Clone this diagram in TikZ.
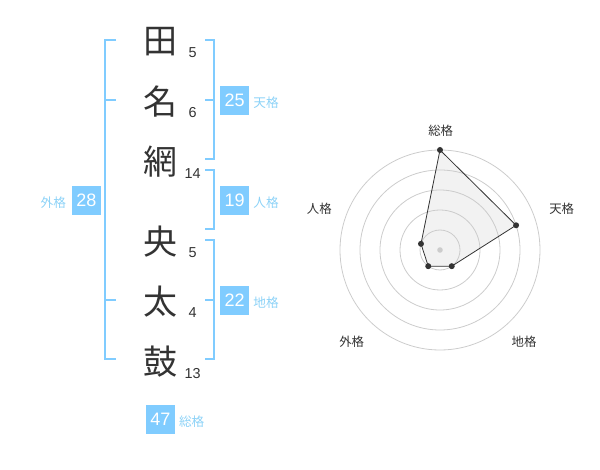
\documentclass[tikz,border=0pt]{standalone}
\usepackage{fontspec}
\setmainfont{Liberation Sans}
\newfontfamily\jp{Noto Sans CJK JP}
\usetikzlibrary{calc}
\definecolor{kaku}{HTML}{80CCFF}
\definecolor{kakutext}{HTML}{8CD2F7}
\definecolor{ink}{HTML}{333333}
\definecolor{ring}{HTML}{CCCCCC}
\definecolor{area}{HTML}{F2F2F2}

\begin{document}
\begin{tikzpicture}[x=0.75pt,y=-0.75pt,
	kanji/.style={font=\jp\fontsize{25.5}{25.5}\selectfont, text=ink, inner sep=0pt},
	stroke/.style={font=\fontsize{10.8}{10.8}\selectfont, text=ink, inner sep=0pt},
	bracket/.style={draw=kaku, line width=1.3pt},
	kakubox/.style={fill=kaku, text=white, minimum size=21.75pt, inner sep=0pt, font=\fontsize{13.5}{13.5}\selectfont},
	kakuname/.style={font=\jp\fontsize{9.5}{9.5}\selectfont, text=kakutext, inner sep=0pt},
	radarname/.style={font=\jp\fontsize{9.3}{9.3}\selectfont, text=ink, inner sep=0pt}]
	%%%%% START %%%%%
	
	\useasboundingbox (0,0) rectangle (600,470);
	
	% name
	\node[kanji] (c1) at (160, 41.7) {田};
	\node[kanji] (c2) at (160, 101.7) {名};
	\node[kanji] (c3) at (160, 161.7) {網};
	\node[kanji] (c4) at (160, 241.7) {央};
	\node[kanji] (c5) at (160, 301.7) {太};
	\node[kanji] (c6) at (160, 361.7) {鼓};
	
	\node[stroke] (s1) at (192.7, 52.3) {5};
	\node[stroke] (s2) at (192.7, 112.7) {6};
	\node[stroke] (s3) at (192.7, 173.3) {14};
	\node[stroke] (s4) at (192.7, 252.3) {5};
	\node[stroke] (s5) at (192.7, 313) {4};
	\node[stroke] (s6) at (192.7, 373.3) {13};
	
	% brackets
	\draw[bracket] (116, 40) -- (105, 40) -- (105, 359.3) -- (116, 359.3);
	\draw[bracket] (105, 100) -- (116, 100);
	\draw[bracket] (105, 300) -- (116, 300);
	
	\draw[bracket] (205, 40) -- (214, 40) -- (214, 159.3) -- (205, 159.3);
	\draw[bracket] (205, 100) -- (214, 100);
	
	\draw[bracket] (205, 170) -- (214, 170) -- (214, 229.3) -- (205, 229.3);
	
	\draw[bracket] (205, 240) -- (214, 240) -- (214, 359.3) -- (205, 359.3);
	\draw[bracket] (205, 300) -- (214, 300);
	
	% sums
	\node[kakubox] (ten) at (234.7, 100.3) {25};
	\node[kakuname] at (266, 103) {天格};
	\node[kakubox] (jin) at (234.7, 200.3) {19};
	\node[kakuname] at (266, 203) {人格};
	\node[kakubox] (chi) at (234.7, 300.3) {22};
	\node[kakuname] at (266, 303) {地格};
	\node[kakubox] (gai) at (86.3, 200.3) {28};
	\node[kakuname] at (53.3, 203) {外格};
	\node[kakubox] (sou) at (160.5, 419.5) {47};
	\node[kakuname] at (191.7, 422) {総格};
	
	% radar
	\coordinate (o) at (440, 250);
	\coordinate (p1) at ($(o)+(-90:100)$);
	\coordinate (p2) at ($(o)+(-18:80)$);
	\coordinate (p3) at ($(o)+(54:20)$);
	\coordinate (p4) at ($(o)+(126:20)$);
	\coordinate (p5) at ($(o)+(198:20)$);
	
	\fill[area] (p1) -- (p2) -- (p3) -- (p4) -- (p5) -- cycle;
	
	\draw[ring, line width=0.6pt] (o) circle (15pt);
	\draw[ring, line width=0.6pt] (o) circle (30pt);
	\draw[ring, line width=0.6pt] (o) circle (45pt);
	\draw[ring, line width=0.6pt] (o) circle (60pt);
	\draw[ring, line width=0.6pt] (o) circle (75pt);
	\fill[ring] (o) circle (2.1pt);
	
	\draw[ink, line width=0.6pt] (p1) -- (p2) -- (p3) -- (p4) -- (p5) -- cycle;
	\fill[ink] (p1) circle (2.25pt);
	\fill[ink] (p2) circle (2.25pt);
	\fill[ink] (p3) circle (2.25pt);
	\fill[ink] (p4) circle (2.25pt);
	\fill[ink] (p5) circle (2.25pt);
	
	\node[radarname] (r1) at (440.7, 130.7) {総格};
	\node[radarname] (r2) at (561.7, 209) {天格};
	\node[radarname] (r3) at (524, 341.7) {地格};
	\node[radarname] (r4) at (351.7, 341.7) {外格};
	\node[radarname] (r5) at (319.3, 209) {人格};
	
	%%%%% END %%%%%
\end{tikzpicture}
\end{document}
